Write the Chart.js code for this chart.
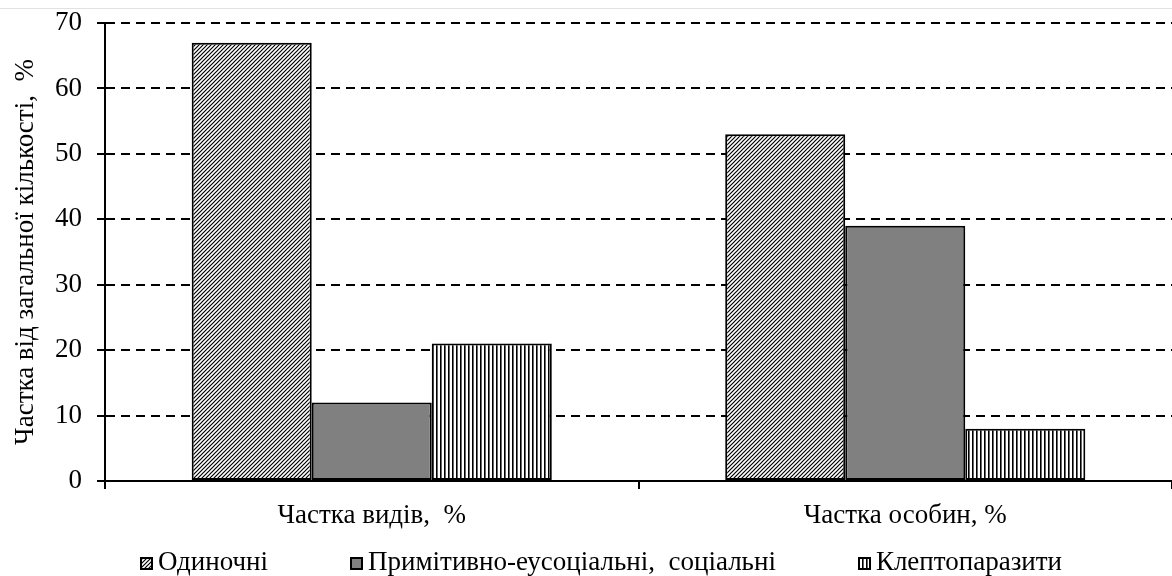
<!DOCTYPE html>
<html>
<head>
<meta charset="utf-8">
<script src="https://cdn.jsdelivr.net/npm/chart.js@4"></script>
<style>
  html, body { margin: 0; padding: 0; background: #fff; }
  #wrap { position: relative; width: 1172px; height: 576px; overflow: hidden; }
  #topline { position: absolute; left: 0; top: 8px; width: 1172px; height: 0; border-top: 1px solid #e2e2e2; }
  #c { position: absolute; left: 0; top: 0; }
  #legend { position: absolute; left: 0; top: 546px; width: 1172px; height: 31px; display: flex; justify-content: center;
            gap: 82px; padding-left: 30px; box-sizing: border-box; font-family: 'Liberation Serif', serif; font-size: 27px;
            line-height: 31px; color: #000; white-space: pre; }
  .item { display: flex; align-items: center; }
  .item canvas { margin-right: 5px; position: relative; top: 2px; }
</style>
</head>
<body>
<div id="wrap">
  <div id="topline"></div>
  <canvas id="c" width="1172" height="576"></canvas>
  <div id="legend"></div>
</div>
<script>
const categories = ['Частка видів,  %', 'Частка особин, %'];
const seriesLabels = ['Одиночні', 'Примітивно-еусоціальні,  соціальні', 'Клептопаразити'];
const solitary = [67, 53];
const social = [12, 39];
const kleptoparasites = [21, 8];
const yTicks = [0, 10, 20, 30, 40, 50, 60, 70];
const yTitle = 'Частка від загальної кількості,  %';

function diagTile() {
  const s = 4;
  const c = document.createElement('canvas');
  c.width = s; c.height = s;
  const g = c.getContext('2d');
  g.fillStyle = '#fff'; g.fillRect(0, 0, s, s);
  g.strokeStyle = '#000'; g.lineWidth = 1.2;
  g.beginPath();
  g.moveTo(0, s); g.lineTo(s, 0);
  g.moveTo(-s, s); g.lineTo(s, -s);
  g.moveTo(0, 2 * s); g.lineTo(2 * s, 0);
  g.stroke();
  return c;
}
function vertTile() {
  const c = document.createElement('canvas');
  c.width = 4; c.height = 4;
  const g = c.getContext('2d');
  g.fillStyle = '#fff'; g.fillRect(0, 0, 4, 4);
  g.fillStyle = '#000'; g.fillRect(0, 0, 1.6, 4);
  return c;
}
const tiles = [diagTile(), null, vertTile()];
const solidFill = '#808080';
function fillFor(i, g) { return tiles[i] ? g.createPattern(tiles[i], 'repeat') : solidFill; }

const serif = 'Liberation Serif';
const ctx = document.getElementById('c').getContext('2d');
const seriesData = [solitary, social, kleptoparasites];
const chart = new Chart(ctx, {
  type: 'bar',
  data: {
    labels: categories,
    datasets: seriesData.map((d, i) => ({
      label: seriesLabels[i], data: d, backgroundColor: fillFor(i, ctx), borderColor: '#000', borderWidth: 2
    }))
  },
  options: {
    responsive: false,
    animation: false,
    devicePixelRatio: 1,
    datasets: { bar: { categoryPercentage: 0.675, barPercentage: 1.0, borderSkipped: false } },
    layout: { padding: { top: 23, right: 0, left: 0, bottom: 45 } },
    plugins: {
      tooltip: { enabled: false },
      legend: { display: false }
    },
    scales: {
      x: {
        grid: { drawOnChartArea: false, drawTicks: true, tickLength: 8, color: '#000', lineWidth: 2, offset: true },
        border: { display: true, color: '#000', width: 2 },
        ticks: { font: { family: serif, size: 27 }, color: '#000', padding: 11 },
        afterFit: (s) => { s.height = 50; }
      },
      y: {
        min: 0, max: 70,
        afterBuildTicks: (s) => { s.ticks = yTicks.map(v => ({ value: v })); },
        grid: { color: '#000', lineWidth: 2, tickLength: 8, tickBorderDash: [], drawTicks: true },
        border: { display: true, color: '#000', width: 2, dash: [9, 6] },
        ticks: { font: { family: serif, size: 27 }, color: '#000', padding: 15 },
        title: { display: true, text: yTitle, font: { family: serif, size: 27 }, color: '#000', padding: { top: 10, bottom: 0 } },
        afterFit: (s) => { s.width = 105; s.paddingTop = 0; s.paddingBottom = 0; }
      }
    }
  }
});

// HTML legend built from the chart's datasets
const legend = document.getElementById('legend');
chart.data.datasets.forEach((ds, i) => {
  const item = document.createElement('div');
  item.className = 'item';
  const sw = document.createElement('canvas');
  sw.width = 13; sw.height = 13;
  const g = sw.getContext('2d');
  g.fillStyle = fillFor(i, g);
  g.fillRect(0, 0, 13, 13);
  g.strokeStyle = '#000'; g.lineWidth = 2;
  g.strokeRect(1, 1, 11, 11);
  const t = document.createElement('span');
  t.textContent = ds.label;
  item.appendChild(sw); item.appendChild(t);
  legend.appendChild(item);
});
</script>
</body>
</html>
